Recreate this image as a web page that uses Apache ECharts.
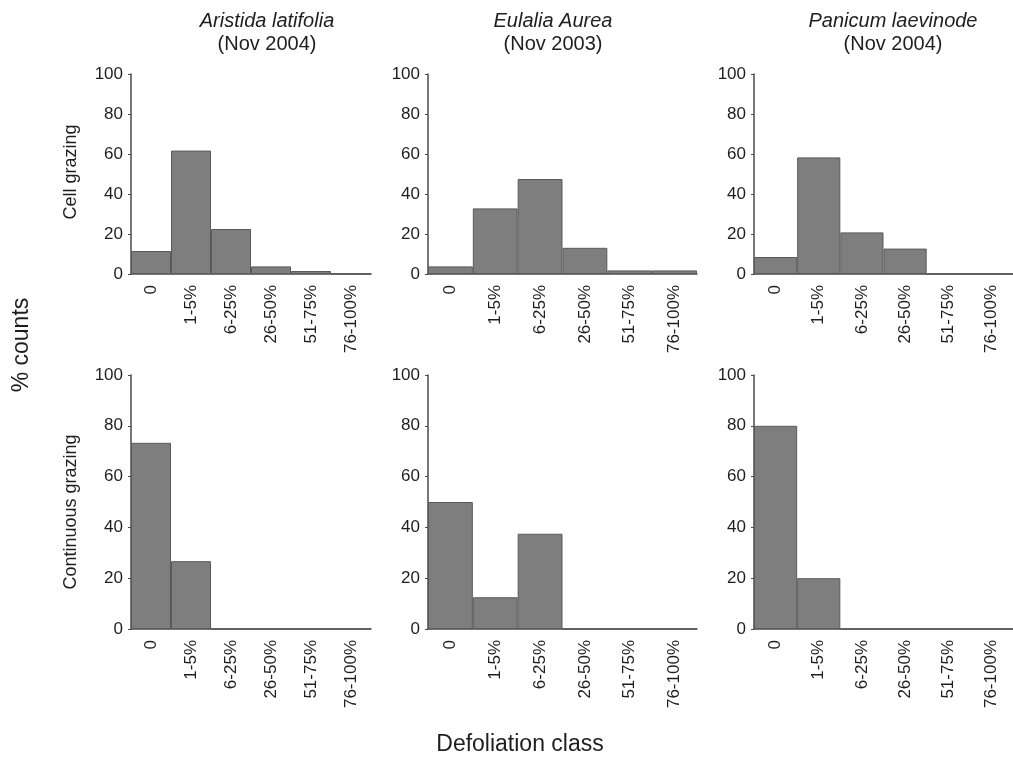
<!DOCTYPE html>
<html>
<head>
<meta charset="utf-8">
<script src="https://cdn.jsdelivr.net/npm/echarts@6/dist/echarts.min.js"></script>
<style>
  html, body { margin: 0; padding: 0; background: #fff; }
  #chart { width: 1013px; height: 765px; }
</style>
</head>
<body>
<div id="chart"></div>
<script>
// Defoliation classes shared by every panel
const classes = ['0', '1-5%', '6-25%', '26-50%', '51-75%', '76-100%'];

// Species shown in each column
const species = ['Aristida latifolia', 'Eulalia Aurea', 'Panicum laevinode'];
const surveys = ['(Nov 2004)', '(Nov 2003)', '(Nov 2004)'];

// Grazing treatments shown in each row
const treatments = ['Cell grazing', 'Continuous grazing'];

// % counts per defoliation class, cell grazing
const cellAristida = [11.5, 61.7, 22.5, 3.8, 1.5, 0];
const cellEulalia  = [3.8, 32.8, 47.5, 13.1, 1.8, 1.8];
const cellPanicum  = [8.5, 58.3, 20.8, 12.7, 0, 0];

// % counts per defoliation class, continuous grazing
const contAristida = [73.3, 26.7, 0, 0, 0, 0];
const contEulalia  = [50, 12.5, 37.5, 0, 0, 0];
const contPanicum  = [80, 20, 0, 0, 0, 0];

const yTicks = [0, 20, 40, 60, 80, 100];

const rows = [
  [cellAristida, cellEulalia, cellPanicum],
  [contAristida, contEulalia, contPanicum]
];

// panel layout (pixels)
const colLeft  = [131, 428, 754];
const colWidth = [240, 269, 269];
const rowTop    = [74, 375];
const rowHeight = [200, 254];
const titleCenter = [262, 548, 888];

const axisColor = '#4a4a4a';
const textColor = '#1e1e1e';
const font = 'Liberation Sans, Arial, sans-serif';

const grid = [], xAxis = [], yAxis = [], series = [];
rows.forEach((rowData, r) => {
  rowData.forEach((values, c) => {
    const i = grid.length;
    grid.push({
      left: colLeft[c],
      top: rowTop[r],
      width: colWidth[c],
      height: rowHeight[r],
      containLabel: false
    });
    xAxis.push({
      type: 'category',
      gridIndex: i,
      data: classes,
      boundaryGap: true,
      axisLine: { lineStyle: { color: axisColor, width: 1.5 } },
      axisTick: { alignWithLabel: true, length: 4, lineStyle: { color: axisColor } },
      axisLabel: {
        rotate: 90,
        margin: 11,
        interval: 0,
        color: textColor,
        fontFamily: font,
        fontSize: 17
      },
      splitLine: { show: false }
    });
    yAxis.push({
      type: 'value',
      gridIndex: i,
      min: yTicks[0],
      max: yTicks[yTicks.length - 1],
      interval: yTicks[1] - yTicks[0],
      axisLine: { show: true, lineStyle: { color: axisColor, width: 1.5 } },
      axisTick: { show: true, length: 3, lineStyle: { color: axisColor } },
      axisLabel: {
        margin: 8,
        color: textColor,
        fontFamily: font,
        fontSize: 17
      },
      splitLine: { show: false }
    });
    series.push({
      type: 'bar',
      xAxisIndex: i,
      yAxisIndex: i,
      data: values,
      barWidth: '100%',
      barCategoryGap: '0%',
      itemStyle: {
        color: '#7e7e7e',
        borderColor: '#5a5a5a',
        borderWidth: 1
      },
      silent: true
    });
  });
});

const titles = species.map((name, c) => ({
  text: '{sp|' + name + '}\n{dt|' + surveys[c] + '}',
  left: titleCenter[c],
  top: 5,
  textAlign: 'center',
  textStyle: {
    fontWeight: 'normal',
    rich: {
      sp: { fontStyle: 'italic', fontWeight: 'normal', fontSize: 20, fontFamily: font, color: textColor, lineHeight: 23 },
      dt: { fontWeight: 'normal', fontSize: 20, fontFamily: font, color: textColor, lineHeight: 23 }
    }
  }
}));

const sideText = (text, x, y, size, rotated) => ({
  type: 'text',
  x: x,
  y: y,
  rotation: rotated ? Math.PI / 2 : 0,
  style: {
    text: text,
    fontSize: size,
    fontFamily: font,
    fill: textColor,
    align: 'center',
    verticalAlign: 'middle'
  },
  silent: true
});

const chart = echarts.init(document.getElementById('chart'), null, { renderer: 'canvas' });
chart.setOption({
  backgroundColor: '#fff',
  animation: false,
  title: titles,
  grid: grid,
  xAxis: xAxis,
  yAxis: yAxis,
  series: series,
  graphic: [
    sideText(treatments[0], 71, 172, 18, true),
    sideText(treatments[1], 71, 512, 18, true),
    sideText('% counts', 22, 345, 23, true),
    sideText('Defoliation class', 520, 745, 23, false)
  ]
});
</script>
</body>
</html>
